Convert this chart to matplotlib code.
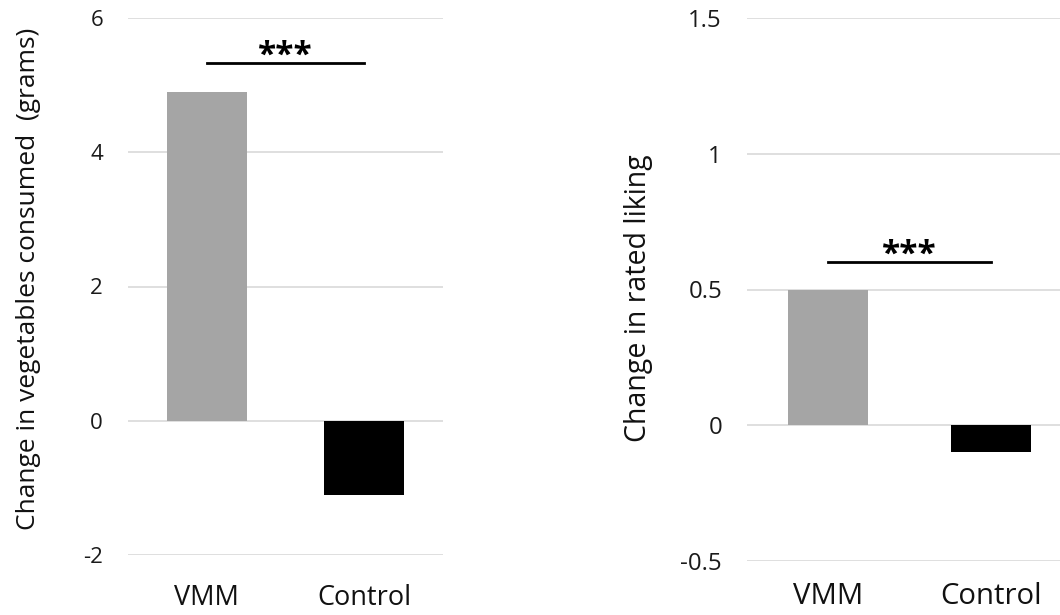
import matplotlib
matplotlib.use('Agg')
import matplotlib.pyplot as plt

# data
groups = ['VMM', 'Control']
veg_change = [4.9, -1.1]          # grams
liking_change = [0.5, -0.1]       # rated liking
veg_ticks = [-2, 0, 2, 4, 6]
liking_ticks = [-0.5, 0, 0.5, 1, 1.5]
liking_tick_labels = ['-0.5', '0', '0.5', '1', '1.5']
veg_bracket = 5.33
liking_bracket = 0.6
sig_label = '***'

bar_colors = ['#a5a5a5', '#000000']
grid_color = '#d9d9d9'

plt.rcParams['font.family'] = ['Open Sans', 'DejaVu Sans']

W, H = 1060, 615
fig = plt.figure(figsize=(W / 100, H / 100), dpi=100)


def px_axes(x0, x1, ytop, ybot):
    return fig.add_axes([x0 / W, (H - ybot) / H, (x1 - x0) / W, (ybot - ytop) / H])


def style(ax, ticks, labels, ylim, ylabel, label_xy, scale, xpad):
    x = range(len(groups))
    ax.set_xlim(-0.5, len(groups) - 0.5)
    ax.set_ylim(*ylim)
    ax.set_yticks(ticks)
    ax.set_yticklabels(labels, fontsize=16 * scale, color='#1a1a1a')
    ax.set_xticks(list(x))
    ax.set_xticklabels(groups, fontsize=19.5 * scale, color='#111111')
    ax.tick_params(axis='y', length=0, pad=18)
    ax.tick_params(axis='x', length=0, pad=xpad)
    for s in ax.spines.values():
        s.set_visible(False)
    ax.grid(axis='y', color=grid_color, linewidth=1.2)
    ax.set_axisbelow(True)
    ax.set_ylabel(ylabel, fontsize=19 * scale, color='#111111')
    ax.yaxis.set_label_coords(*label_xy)


def bracket(ax, y):
    ax.plot([0, 1], [y, y], color='black', linewidth=2, zorder=3)
    ax.annotate(sig_label, xy=(0.5, y), xytext=(0, -7), textcoords='offset points',
                ha='center', va='bottom', fontsize=24, fontweight='bold')


# left panel: vegetables consumed
ax1 = px_axes(128, 443, 18, 555)
ax1.bar(range(len(groups)), veg_change, width=0.51, color=bar_colors, zorder=2)
style(ax1, veg_ticks, [str(t) for t in veg_ticks], (-2, 6),
      'Change in vegetables consumed  (grams)', (-0.275, 0.515), 1.0, 21)
bracket(ax1, veg_bracket)

# right panel: rated liking
ax2 = px_axes(747, 1072, 18, 561)
ax2.bar(range(len(groups)), liking_change, width=0.49, color=bar_colors, zorder=2)
style(ax2, liking_ticks, liking_tick_labels, (-0.5, 1.5),
      'Change in rated liking', (-0.29, 0.485), 1.08, 15)
bracket(ax2, liking_bracket)

fig.savefig('out.png', dpi=100)
